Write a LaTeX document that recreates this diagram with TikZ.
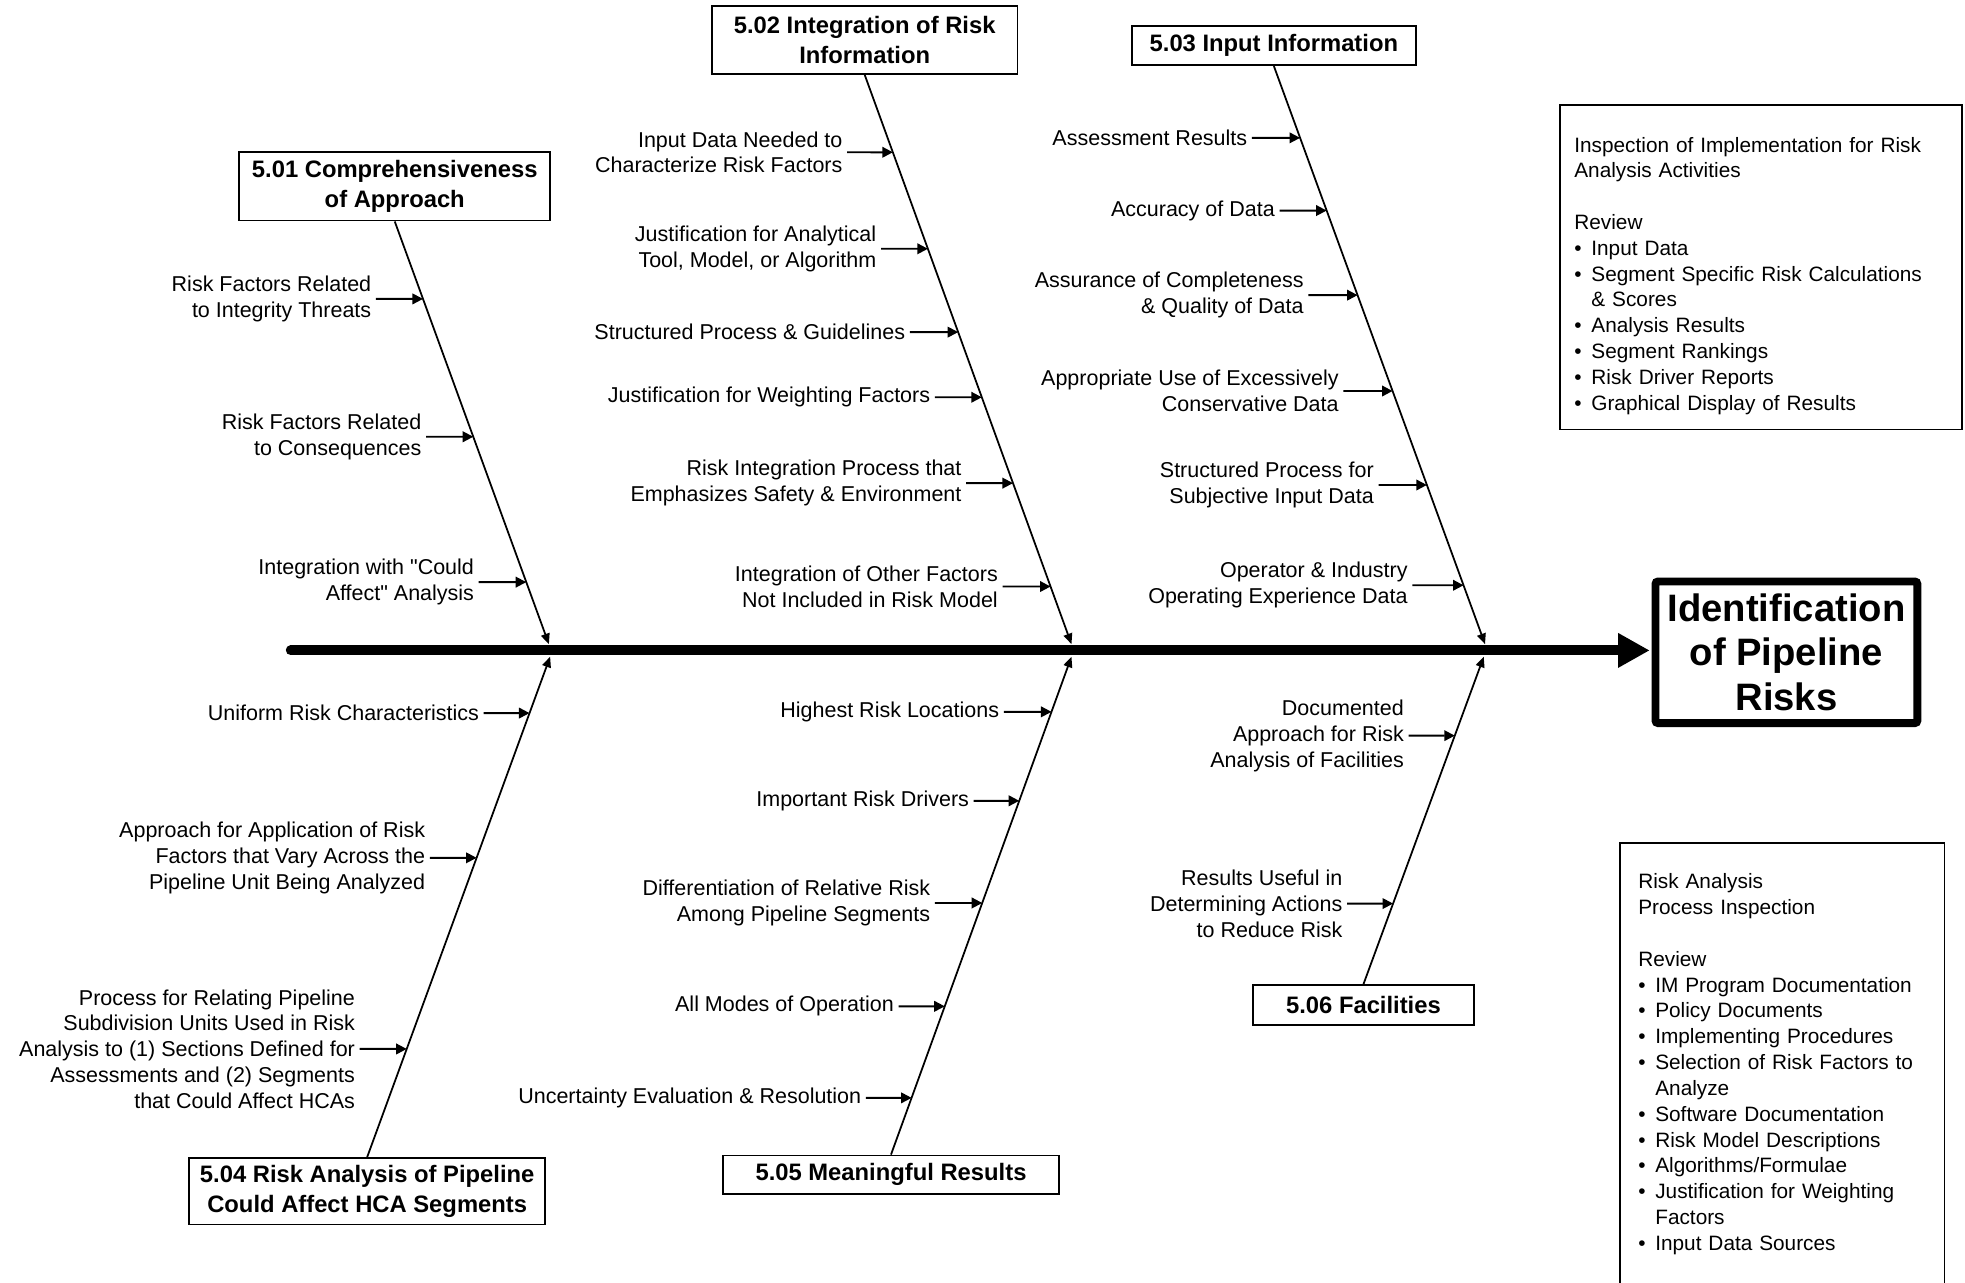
\documentclass[tikz,border=0pt]{standalone}
\usepackage{fontspec}
\setmainfont{Liberation Sans}
\usepackage{tikz}
\usetikzlibrary{calc, positioning, arrows.meta}
\setlength{\parindent}{0pt}
\tikzstyle{cause}=[draw, line width=1pt, align=center, inner sep=0pt, font=\fontsize{13.5}{17}\selectfont\bfseries]
\tikzstyle{factor}=[anchor=east, align=right, inner xsep=2.5pt, inner ysep=0pt, font=\fontsize{12.2}{14.65}\selectfont]
\tikzstyle{effect}=[draw, line width=4.5pt, rounded corners=1.5pt, align=center, minimum width=52.25mm, minimum height=28.25mm, font=\fontsize{21.7}{25}\selectfont\bfseries]
\tikzstyle{frame}=[draw, line width=1pt, anchor=north west, inner sep=0pt]
\tikzstyle{note}=[anchor=north west, align=left, inner sep=0pt, font=\fontsize{11.8}{14.65}\selectfont]
\tikzstyle{bone}=[line width=1pt, -{Triangle[length=6pt,width=5pt]}]
\tikzstyle{twig}=[line width=1.1pt, -{Triangle[length=6pt,width=6pt]}]
\tikzstyle{spine}=[line width=5.6pt, line cap=round, -{Triangle[length=18pt,width=18.5pt]}]
\newcommand{\bul}[1]{\par\hangindent=3.4mm\hangafter=1\makebox[3.4mm][l]{\textbullet}#1\par}

\begin{document}
\begin{tikzpicture}[x=0.25mm, y=-0.25mm]
	\useasboundingbox[fill=white] (0,0) rectangle (1568,1023);

	\node[cause, minimum width=62mm, minimum height=13.75mm] (c501) at (315,148.5) {5.01 Comprehensiveness\\of Approach};
	\node[cause, minimum width=61mm, minimum height=13.5mm] (c502) at (690,32) {5.02 Integration of Risk\\Information};
	\node[cause, minimum width=56.75mm, minimum height=7.75mm] (c503) at (1016.5,36.5) {5.03 Input Information};
	\node[cause, minimum width=71mm, minimum height=13.25mm] (c504) at (293,950.5) {5.04 Risk Analysis of Pipeline\\Could Affect HCA Segments};
	\node[cause, minimum width=67mm, minimum height=7.75mm] (c505) at (711,937.5) {5.05 Meaningful Results};
	\node[cause, minimum width=44mm, minimum height=8mm] (c506) at (1088,802) {5.06 Facilities};

	\node[effect] (goal) at (1425.5,520.5) {Identification\\of Pipeline\\Risks};
	\coordinate (tail) at (232,519);
	\draw[spine, shorten >=1pt] (tail) -- (tail -| goal.west);

	\coordinate (r1) at (c501.south); \coordinate (t1) at (438,514);
	\coordinate (r2) at (c502.south); \coordinate (t2) at (855,514);
	\coordinate (r3) at (c503.south); \coordinate (t3) at (1185,514);
	\coordinate (r4) at (c504.north); \coordinate (t4) at (439,524);
	\coordinate (r5) at (c505.north); \coordinate (t5) at (855,524);
	\coordinate (r6) at (c506.north); \coordinate (t6) at (1184,524);
	\foreach \n in {1,...,6}
		\draw[bone] (r\n) -- (t\n);

	\foreach \txt/\xs/\ys/\c/\t [count=\i] in {
		{Risk Factors Related\\to Integrity Threats}/300/238.5/r1/t1,
		{Risk Factors Related\\to Consequences}/340/348.5/r1/t1,
		{Integration with \textquotedbl Could\\Affect\textquotedbl{} Analysis}/382/464.5/r1/t1,
		{Input Data Needed to\\Characterize Risk Factors}/676/121.5/r2/t2,
		{Justification for Analytical\\Tool, Model, or Algorithm}/703/198.5/r2/t2,
		{Structured Process \& Guidelines}/726/265/r2/t2,
		{Justification for Weighting Factors}/746/317/r2/t2,
		{Risk Integration Process that\\Emphasizes Safety \& Environment}/771/385.5/r2/t2,
		{Integration of Other Factors\\Not Included in Risk Model}/800/468/r2/t2,
		{Assessment Results}/999/110/r3/t3,
		{Accuracy of Data}/1021/168/r3/t3,
		{Assurance of Completeness\\\& Quality of Data}/1044/235.5/r3/t3,
		{Appropriate Use of Excessively\\Conservative Data}/1072/312/r3/t3,
		{Structured Process for\\Subjective Input Data}/1100/387/r3/t3,
		{Operator \& Industry\\Operating Experience Data}/1127/467/r3/t3,
		{Uniform Risk Characteristics}/386/569/r4/t4,
		{Approach for Application of Risk\\Factors that Vary Across the\\Pipeline Unit Being Analyzed}/343/684.5/r4/t4,
		{Process for Relating Pipeline\\Subdivision Units Used in Risk\\Analysis to (1) Sections Defined for\\Assessments and (2) Segments\\that Could Affect HCAs}/287/837/r4/t4,
		{Highest Risk Locations}/801/568/r5/t5,
		{Important Risk Drivers}/777/639/r5/t5,
		{Differentiation of Relative Risk\\Among Pipeline Segments}/746/720.5/r5/t5,
		{All Modes of Operation}/717/803/r5/t5,
		{Uncertainty Evaluation \& Resolution}/691/876/r5/t5,
		{Documented\\Approach for Risk\\Analysis of Facilities}/1124/587/r6/t6,
		{Results Useful in\\Determining Actions\\to Reduce Risk}/1075/721/r6/t6}
	{
		\node[factor] (f\i) at (\xs,\ys) {\txt};
		\draw[twig] (f\i) -- (intersection of f\i.west--f\i.east and \c--\t);
	}

	\node[frame, minimum width=80.25mm, minimum height=64.75mm] (insp) at (1244,83) {};
	\node[note, text width=78mm] (insptext) at ([xshift=3mm,yshift=-6.5mm]insp.north west) {Inspection of Implementation for Risk\newline Analysis Activities\par\strut\par Review\bul{Input Data}\bul{Segment Specific Risk Calculations\newline \& Scores}\bul{Analysis Results}\bul{Segment Rankings}\bul{Risk Driver Reports}\bul{Graphical Display of Results}};

	\node[frame, minimum width=64.75mm, minimum height=88.25mm] (proc) at (1292,672) {};
	\node[note, text width=60mm] (proctext) at ([xshift=3.75mm,yshift=-6.25mm]proc.north west) {Risk Analysis\newline Process Inspection\par\strut\par Review\bul{IM Program Documentation}\bul{Policy Documents}\bul{Implementing Procedures}\bul{Selection of Risk Factors to\newline Analyze}\bul{Software Documentation}\bul{Risk Model Descriptions}\bul{Algorithms/Formulae}\bul{Justification for Weighting\newline Factors}\bul{Input Data Sources}};

\end{tikzpicture}
\end{document}
